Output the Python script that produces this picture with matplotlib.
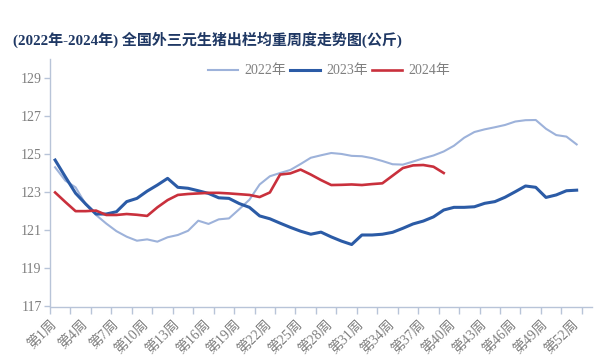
import numpy as np
import matplotlib
matplotlib.use("Agg")
import matplotlib.pyplot as plt
import matplotlib.transforms as mtransforms

# 周度数据（公斤）
weeks = list(range(1, 54))
label_weeks = list(range(1, 54, 3))
tick_labels = [f"第{w}周" for w in label_weeks]

w2022 = [124.3, 123.6, 123.25, 122.35, 121.8, 121.35, 120.95, 120.66, 120.45, 120.52,
         120.4, 120.63, 120.75, 120.97, 121.5, 121.33, 121.57, 121.62, 122.1, 122.6,
         123.4, 123.83, 124.0, 124.16, 124.47, 124.8, 124.93, 125.05, 125.0, 124.9,
         124.88, 124.78, 124.63, 124.46, 124.44, 124.6, 124.77, 124.92, 125.13, 125.43,
         125.85, 126.15, 126.29, 126.4, 126.52, 126.7, 126.77, 126.78, 126.32, 125.99,
         125.91, 125.5]
w2023 = [124.68, 123.8, 122.94, 122.37, 121.85, 121.85, 121.97, 122.5, 122.67, 123.05,
         123.37, 123.72, 123.25, 123.2, 123.07, 122.93, 122.7, 122.67, 122.4, 122.2,
         121.75, 121.6, 121.37, 121.15, 120.95, 120.79, 120.9, 120.65, 120.43, 120.25,
         120.75, 120.75, 120.79, 120.89, 121.1, 121.33, 121.48, 121.7, 122.06, 122.2,
         122.2, 122.23, 122.41, 122.5, 122.73, 123.02, 123.32, 123.25, 122.72, 122.85,
         123.07, 123.1]
w2024 = [122.98, 122.48, 122.0, 122.0, 122.03, 121.8, 121.8, 121.85, 121.81, 121.75,
         122.2, 122.58, 122.85, 122.9, 122.93, 122.96, 122.96, 122.93, 122.89, 122.85,
         122.74, 122.98, 123.92, 123.98, 124.18, 123.92, 123.63, 123.37, 123.38, 123.4,
         123.37, 123.42, 123.46, 123.86, 124.26, 124.4, 124.42, 124.33, 124.0]

FAM = ['Liberation Serif', 'Noto Sans CJK SC']
GRAY = '#7F7F7F'
AXIS = '#B8C4D8'

fig = plt.figure(figsize=(6, 3.6), dpi=100, facecolor='white')
ax = fig.add_axes([50 / 600, 1 - 306.5 / 360, 542 / 600, (306.5 - 58.6) / 360])

ax.plot(weeks[:len(w2022)], w2022, color='#9DB2DA', lw=1.5, label='2022年')
ax.plot(weeks[:len(w2023)], w2023, color='#2B5BA6', lw=2.2, label='2023年')
ax.plot(weeks[:len(w2024)], w2024, color='#C9303C', lw=1.9, label='2024年')

ax.set_xlim(0.5, 53.5)
ax.set_ylim(117, 130)
ax.set_yticks(range(117, 130, 2))

# 刻度线在类别边界，每两周一个；标签每三周一个
ax.set_xticks(label_weeks)
ax.set_xticklabels(tick_labels, rotation=45, ha='right', va='top',
                   rotation_mode='anchor', family=FAM, fontsize=10, color=GRAY)
ax.set_xticks(np.arange(0.5, 53, 2), minor=True)
ax.tick_params(axis='x', which='major', length=0, pad=6)
ax.tick_params(axis='x', which='minor', length=5, width=1, color=AXIS, direction='out')
ax.tick_params(axis='y', length=4, width=1, color=AXIS, labelcolor=GRAY, labelsize=10, pad=2)
for lab in ax.get_yticklabels():
    lab.set_family(FAM)

offset = mtransforms.ScaledTranslation(-0.05, -0.03, fig.dpi_scale_trans)
for lab in ax.get_xticklabels():
    lab.set_transform(lab.get_transform() + offset)

for s in ('top', 'right'):
    ax.spines[s].set_visible(False)
for s in ('left', 'bottom'):
    ax.spines[s].set_color(AXIS)
    ax.spines[s].set_linewidth(1)

leg = fig.legend(loc='center', bbox_to_anchor=(0.548, 0.803), ncol=3, frameon=False,
                 handlelength=2.2, handletextpad=0.4, columnspacing=0.3,
                 prop={'family': FAM, 'size': 10})
for t in leg.get_texts():
    t.set_color(GRAY)

fig.text(13 / 600, 1 - 40 / 360, '(2022年-2024年) 全国外三元生猪出栏均重周度走势图(公斤)',
         ha='left', va='center', fontsize=10.8, fontweight='bold', color='#1F3864', family=FAM)

fig.savefig('out.png', dpi=100, facecolor='white')
